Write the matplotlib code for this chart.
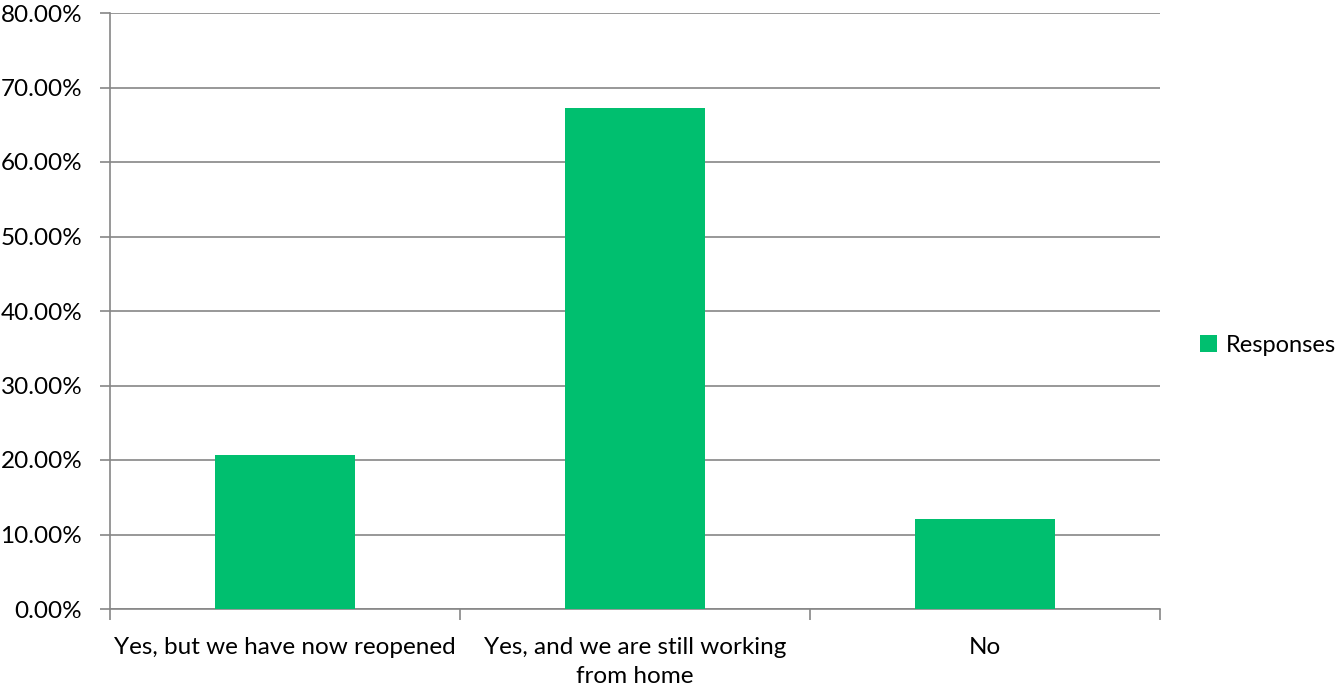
import numpy as np
import matplotlib.pyplot as plt
from matplotlib.ticker import FuncFormatter, FixedLocator

categories = ['Yes, but we have now reopened', 'Yes, and we are still working\nfrom home', 'No']
responses = [20.67, 67.25, 12.08]

grey = '#868686'
green = '#00BF6F'

plt.rcParams['font.family'] = ['Lato', 'DejaVu Sans']

fig = plt.figure(figsize=(13.39, 6.88), dpi=100)
ax = fig.add_axes([110 / 1339, 79 / 688, 1050 / 1339, 596 / 688])

x = np.arange(len(categories))
ax.bar(x, responses, width=0.4, color=green, label='Responses', zorder=3)

ax.set_xlim(-0.5, len(categories) - 0.5)
ax.set_ylim(0, 80)
ax.set_yticks(np.arange(0, 81, 10))
ax.yaxis.set_major_formatter(FuncFormatter(lambda v, p: '%.2f%%' % v))
ax.grid(axis='y', color=grey, linewidth=1.2, zorder=0)

ax.set_xticks(x)
ax.set_xticklabels(categories, linespacing=1.5)
ax.xaxis.set_minor_locator(FixedLocator(np.arange(-0.5, len(categories), 1.0)))
ax.tick_params(axis='x', which='major', length=0, pad=20, labelsize=17.5)
ax.tick_params(axis='x', which='minor', length=8, width=1.2, color=grey)
ax.tick_params(axis='y', length=7, width=1.2, color=grey, pad=13, labelsize=17.5)

for side in ['top', 'right']:
    ax.spines[side].set_visible(False)
for side in ['left', 'bottom']:
    ax.spines[side].set_color(grey)
    ax.spines[side].set_linewidth(1.2)

fig.legend(*ax.get_legend_handles_labels(), loc='center left',
           bbox_to_anchor=(1200 / 1339, 1 - 345 / 688), frameon=False, borderpad=0,
           borderaxespad=0, fontsize=17, handlelength=0.7, handleheight=0.7,
           handletextpad=0.4)

fig.savefig('out.png', dpi=100)
